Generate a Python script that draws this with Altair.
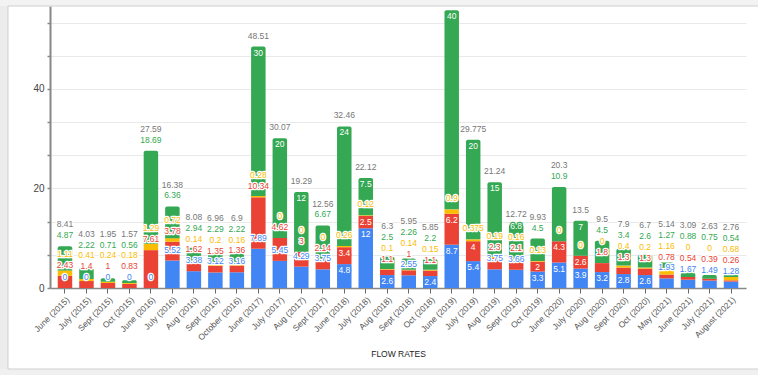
import altair as alt
import pandas as pd

months = ["June (2015)", "July (2015)", "Sept (2015)", "Oct (2015)", "June (2016)", "July (2016)",
          "Aug (2016)", "Sept (2016)", "October (2016)", "June (2017)", "July (2017)", "Aug (2017)",
          "Sept (2017)", "June (2018)", "July (2018)", "Aug (2018)", "Sept (2018)", "Oct (2018)",
          "June (2019)", "July (2019)", "Aug (2019)", "Sept (2019)", "Oct (2019)", "June (2020)",
          "July (2020)", "Aug (2020)", "Sept (2020)", "Oct (2020)", "May (2021)", "June (2021)",
          "July (2021)", "August (2021)"]
blue = [0, 0, 0, 0, 0, 5.52, 3.38, 3.12, 3.16, 7.89, 5.45, 4.29, 3.75, 4.8, 12, 2.6, 2.55, 2.4,
        8.7, 5.4, 3.75, 3.66, 3.3, 5.1, 3.9, 3.2, 2.8, 2.6, 1.93, 1.67, 1.49, 1.28]
red = [2.43, 1.4, 1, 0.83, 7.61, 3.78, 1.62, 1.35, 1.36, 10.34, 4.62, 3, 2.14, 3.4, 2.5, 1.1, 1, 1.1,
       6.2, 4, 2.3, 2.1, 2, 4.3, 2.6, 1.8, 1.3, 1.3, 0.78, 0.54, 0.39, 0.26]
yellow = [1.11, 0.41, 0.24, 0.18, 1.29, 0.72, 0.14, 0.2, 0.16, 0.28, 0, 0, 0, 0.26, 0.12, 0.1, 0.14, 0.15,
          0.9, 0.375, 0.19, 0.16, 0.13, 0, 0, 0, 0.4, 0.2, 1.16, 0, 0, 0.68]
green = [4.87, 2.22, 0.71, 0.56, 18.69, 6.36, 2.94, 2.29, 2.22, 30, 20, 12, 6.67, 24, 7.5, 2.5, 2.26, 2.2,
         40, 20, 15, 6.8, 4.5, 10.9, 7, 4.5, 3.4, 2.6, 1.27, 0.88, 0.75, 0.54]

series_names = ["Blue", "Red", "Yellow", "Green"]
series_vals = [blue, red, yellow, green]
series_cols = ["#4285F4", "#EA4335", "#FBBC04", "#34A853"]
TOTAL_COL = "#777777"

FONT = "Liberation Sans"
FS = 8.5
W, H = 696, 282
YMAX = 170 / 3
U = YMAX / H            # data units per pixel
BAR_W = 14.5
GAP, OUT, IN, MARG = 10.8 * U, 11 * U, 6 * U, 1 * U


def fmt(v):
    s = f"{v:.3f}".rstrip("0").rstrip(".")
    return s if s else "0"


def text_w(s):
    return sum((0.278 if c == "." else 0.556) * FS for c in s)


bar_rows, lab_rows = [], []
for i, m in enumerate(months):
    cum = 0.0
    prev = -1e9
    for name, vals, col in zip(series_names, series_vals, series_cols):
        v = vals[i]
        top = cum + v
        bar_rows.append(dict(month=m, series=name, y0=cum, y1=top, color=col))
        t = fmt(v)
        inside = False
        if text_w(t) <= BAR_W - 0.5 and v / U >= 9.5:
            c = max(top - IN, prev + GAP)
            if c <= top - MARG:
                inside = True
        if not inside:
            c = max(top + OUT, prev + GAP)
        lab_rows.append(dict(month=m, ypos=c, label=t,
                             fg="#ffffff" if inside else col,
                             halo=col if inside else "#ffffff"))
        prev = c
        cum = top
    c = max(cum + OUT, prev + GAP)
    lab_rows.append(dict(month=m, ypos=c, label=fmt(cum), fg=TOTAL_COL, halo="#ffffff"))

bars = pd.DataFrame(bar_rows)
labs = pd.DataFrame(lab_rows)
labs = labs[labs["ypos"] < YMAX]

yvals = [k * 20 / 3 for k in range(9)]

x_axis = alt.Axis(title="FLOW RATES", labelAngle=-45, labelFontSize=8.5, labelColor="#555555",
                  labelFont=FONT, titleFont=FONT, titleFontSize=8.5, titleFontWeight="normal",
                  titleColor="#222222", titleY=65, titleBaseline="middle",
                  domainColor="#888888", domainWidth=1.5, tickColor="#666666", tickSize=5,
                  labelPadding=2, labelOverlap=False)
y_axis = alt.Axis(values=yvals, title=None, grid=True, gridColor="#e9e9e9",
                  labelExpr="abs(datum.value - round(datum.value/20)*20) < 0.01 ? '' + round(datum.value) : ''",
                  labelFont=FONT, labelFontSize=10, labelColor="#444444", labelPadding=3,
                  labelOverlap=False,
                  domainColor="#888888", domainWidth=2, tickColor="#888888", tickSize=3,
                  tickWidth=1.5)
xscale = alt.Scale(paddingInner=0.326, paddingOuter=0.36)
yscale = alt.Scale(domain=[0, YMAX], nice=False)


def xenc():
    return alt.X("month:N", sort=months, scale=xscale, axis=x_axis)


def yenc(field):
    return alt.Y(field, scale=yscale, axis=y_axis)


one = pd.DataFrame({"a": [0]})
# card frame: shadow strips and border lines drawn outside the plot
shadow_left = alt.Chart(one).mark_rect(fill="#ececec", clip=False).encode(
    x=alt.value(-50), x2=alt.value(-42), y=alt.value(-6), y2=alt.value(375))
shadow_top = alt.Chart(one).mark_rect(fill="#f3f3f3", clip=False).encode(
    x=alt.value(-50), x2=alt.value(720), y=alt.value(-6), y2=alt.value(0))
shadow_bot = alt.Chart(one).mark_rect(fill="#f0f0f0", clip=False).encode(
    x=alt.value(-50), x2=alt.value(720), y=alt.value(363), y2=alt.value(375))
frame = alt.Chart(one).mark_rect(fill=None, stroke="#cfcfcf", strokeWidth=1, clip=False).encode(
    x=alt.value(-42), x2=alt.value(730), y=alt.value(0), y2=alt.value(363))

base_bars = alt.Chart(bars).mark_bar(clip=True).transform_filter(
    alt.datum.series != "Green"
).encode(
    x=xenc(),
    y=yenc("y0:Q"),
    y2="y1:Q",
    color=alt.Color("color:N", scale=None),
)

green_bars = alt.Chart(bars).mark_bar(clip=True, cornerRadiusTopLeft=2, cornerRadiusTopRight=2).transform_filter(
    alt.datum.series == "Green"
).encode(
    x=xenc(),
    y=yenc("y0:Q"),
    y2="y1:Q",
    color=alt.Color("color:N", scale=None),
)

halo = alt.Chart(labs).mark_text(
    font=FONT, fontSize=FS, baseline="middle", align="center", strokeWidth=2.5, strokeJoin="round", clip=True
).encode(
    x=xenc(),
    y=yenc("ypos:Q"),
    text="label:N",
    fill=alt.Fill("halo:N", scale=None),
    stroke=alt.Stroke("halo:N", scale=None),
)

fg = alt.Chart(labs).mark_text(
    font=FONT, fontSize=FS, baseline="middle", align="center", clip=True
).encode(
    x=xenc(),
    y=yenc("ypos:Q"),
    text="label:N",
    fill=alt.Fill("fg:N", scale=None),
)

chart = alt.layer(shadow_left, shadow_top, shadow_bot, frame, base_bars, green_bars, halo, fg).properties(
    width=W, height=H,
    autosize=alt.AutoSizeParams(type="none"),
    padding={"left": 50, "top": 6, "right": 12, "bottom": 87},
    background="#ffffff",
).configure_view(stroke=None).configure_axis(labelOverlap=False)

chart.save("out.html", embed_options={"renderer": "svg", "actions": False})
